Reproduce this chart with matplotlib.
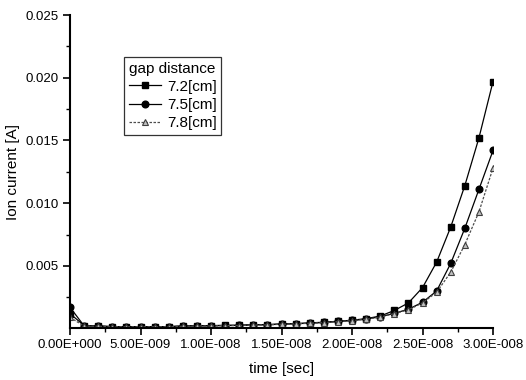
"""Ion current vs time for three gap distances."""
import matplotlib
matplotlib.use("Agg")
from matplotlib import pyplot as plt
from matplotlib.ticker import FuncFormatter, MultipleLocator
import numpy as np

plt.rcParams['font.family'] = ['Liberation Sans', 'DejaVu Sans']

# Data ========================================================================

time_ns = np.arange(0, 31)  # sample times in ns

current_72 = [0.0012, 0.00024, 0.00022, 0.00016, 0.00016, 0.00016, 0.00016,
              0.00016, 0.00022, 0.00024, 0.00024, 0.00027, 0.00027, 0.00032,
              0.00032, 0.00038, 0.00040, 0.00046, 0.00051, 0.00059, 0.00067,
              0.00080, 0.00100, 0.00145, 0.00205, 0.00327, 0.0053, 0.0081,
              0.0114, 0.0152, 0.0197]
current_75 = [0.0017, 0.00022, 0.00020, 0.00016, 0.00016, 0.00016, 0.00016,
              0.00016, 0.00020, 0.00022, 0.00022, 0.00025, 0.00026, 0.00030,
              0.00031, 0.00036, 0.00039, 0.00044, 0.00049, 0.00057, 0.00065,
              0.00076, 0.00095, 0.00122, 0.00155, 0.00210, 0.0030, 0.0052,
              0.0080, 0.0111, 0.0142]
current_78 = [0.0009, 0.00020, 0.00019, 0.00015, 0.00015, 0.00015, 0.00015,
              0.00015, 0.00019, 0.00021, 0.00021, 0.00024, 0.00025, 0.00029,
              0.00030, 0.00035, 0.00038, 0.00043, 0.00048, 0.00056, 0.00064,
              0.00075, 0.00092, 0.00120, 0.00150, 0.00205, 0.0029, 0.0045,
              0.0067, 0.0093, 0.0128]

labels = ["7.2[cm]", "7.5[cm]", "7.8[cm]"]


def sci_label(v, pos):
    """Tick labels like 5.00E-009."""
    mant, exp = "{:.2E}".format(v).split("E")
    exp = int(exp)
    sign = "+" if exp >= 0 else "-"
    return "{}E{}{:03d}".format(mant, sign, abs(exp))


# Plot ========================================================================

fig = plt.figure(figsize=(5.26, 3.80), dpi=100)
ax = fig.add_axes([0.1331, 0.1368, 0.8042, 0.8237])

t = time_ns * 1e-9
ax.plot(t, current_72, '-', color='black', lw=0.9, marker='s', ms=4.6,
        mfc='black', mec='black', label=labels[0])
ax.plot(t, current_75, '-', color='black', lw=0.9, marker='o', ms=4.8,
        mfc='black', mec='black', label=labels[1])
ax.plot(t, current_78, linestyle=(0, (2, 1.2)), color='0.3', lw=0.9,
        marker='^', ms=4.8, mfc='0.75', mec='0.25', mew=0.8,
        label=labels[2])

ax.set_xlim(0, 3.0e-8)
ax.set_ylim(0.00005, 0.025)
ax.xaxis.set_major_locator(MultipleLocator(5e-9))
ax.xaxis.set_minor_locator(MultipleLocator(2.5e-9))
ax.yaxis.set_major_locator(MultipleLocator(0.005))
ax.yaxis.set_minor_locator(MultipleLocator(0.0025))
ax.xaxis.set_major_formatter(FuncFormatter(sci_label))
ax.yaxis.set_major_formatter(FuncFormatter(lambda v, p: "{:.3f}".format(v)))

for side in ("top", "right"):
    ax.spines[side].set_visible(False)
for side in ("left", "bottom"):
    ax.spines[side].set_linewidth(1.5)

ax.tick_params(which='major', direction='out', length=5, width=1.2,
               labelsize=9.5, pad=3)
ax.tick_params(which='minor', direction='out', length=3, width=1.0)

ax.set_xlabel("time [sec]", fontsize=11, labelpad=8)
ax.set_ylabel("Ion current [A]", fontsize=11, labelpad=4)

leg = ax.legend(title="gap distance", loc='upper left',
                bbox_to_anchor=(0.128, 0.866), borderaxespad=0,
                fontsize=11, title_fontsize=11, frameon=True,
                fancybox=False, handlelength=2.1, handletextpad=0.4,
                borderpad=0.3, labelspacing=0.28, edgecolor='black')
leg.get_frame().set_linewidth(0.9)
leg._legend_box.align = "left"

fig.savefig("out.png", dpi=100)
